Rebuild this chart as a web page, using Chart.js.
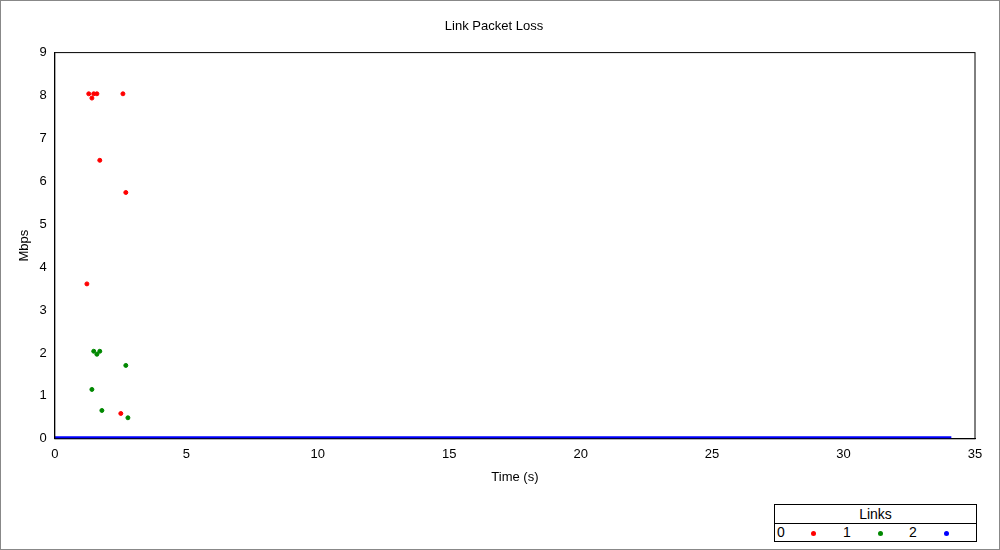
<!DOCTYPE html>
<html>
<head>
<meta charset="UTF-8">
<script src="https://cdn.jsdelivr.net/npm/chart.js"></script>
<style>
  body { margin:0; background:#fff; font-family: "Liberation Sans", Arial, sans-serif; }
  #wrap { position:relative; width:998px; height:548px; border:1px solid #888; }
  #legend { position:absolute; left:773px; top:503px; width:201px; height:36px; border:1px solid #000; font-size:14px; background:#fff; }
  #legend .t { text-align:center; height:18px; line-height:18px; border-bottom:1px solid #000; }
  #legend .r { position:relative; height:17px; line-height:17px; }
  #legend span { position:absolute; }
  #legend i { position:absolute; width:5px; height:5px; border-radius:50%; top:7px; }
</style>
</head>
<body>
<div id="wrap">
  <canvas id="c" width="998" height="548"></canvas>
  <div id="legend">
    <div class="t">Links</div>
    <div class="r">
      <span style="left:2px">0</span>
      <span style="left:68px">1</span><i style="left:36px;background:#f00"></i>
      <span style="left:134px">2</span><i style="left:103px;background:#080"></i>
      <i style="left:169px;background:#00f"></i>
    </div>
  </div>
</div>
<script>
var tempoVermelho = [1.22, 1.29, 1.41, 1.48, 1.60, 1.71, 2.59, 2.70, 2.51];
var perdaVermelho = [3.61, 8.04, 7.94, 8.04, 8.04, 6.49, 8.04, 5.74, 0.59];
var tempoVerde = [1.41, 1.48, 1.60, 1.71, 1.79, 2.70, 2.78];
var perdaVerde = [1.15, 2.04, 1.97, 2.04, 0.66, 1.71, 0.49];
var tempoAzul = [0, 34.1];
var perdaAzul = [0, 0];

function pontos(xs, ys) {
  var r = [];
  for (var i = 0; i < xs.length; i++) r.push({ x: xs[i], y: ys[i] });
  return r;
}

new Chart(document.getElementById('c').getContext('2d'), {
  type: 'scatter',
  data: {
    datasets: [
      { label: '1', data: pontos(tempoVermelho, perdaVermelho), backgroundColor: '#f00', borderColor: '#f00', pointRadius: 2 },
      { label: '2', data: pontos(tempoVerde, perdaVerde), backgroundColor: '#080', borderColor: '#080', pointRadius: 2 },
      { label: '3', data: pontos(tempoAzul, perdaAzul), showLine: true, borderColor: '#00f', backgroundColor: '#00f', borderWidth: 5, pointRadius: 0 }
    ]
  },
  options: {
    responsive: false,
    animation: false,
    layout: { padding: { left: 12, right: 24, top: 10, bottom: 60 } },
    plugins: {
      legend: { display: false },
      tooltip: { enabled: false },
      title: { display: true, text: 'Link Packet Loss', color: '#000', font: { size: 13, weight: 'normal' }, padding: { top: 8, bottom: 18 } }
    },
    scales: {
      x: {
        min: 0, max: 35,
        ticks: { stepSize: 5, color: '#000', font: { size: 13 } },
        grid: { display: false, tickLength: 5, color: '#000' },
        border: { color: '#000' },
        title: { display: true, text: 'Time (s)', color: '#000', font: { size: 13 } }
      },
      y: {
        min: 0, max: 9,
        ticks: { stepSize: 1, color: '#000', font: { size: 13 } },
        grid: { display: false, tickLength: 5, color: '#000' },
        border: { color: '#000' },
        title: { display: true, text: 'Mbps', color: '#000', font: { size: 13 } }
      }
    }
  },
  plugins: [{
    id: 'moldura',
    afterDraw: function (chart) {
      var a = chart.chartArea, ctx = chart.ctx;
      ctx.save();
      ctx.strokeStyle = '#000';
      ctx.lineWidth = 1;
      ctx.strokeRect(a.left, a.top, a.right - a.left, a.bottom - a.top);
      ctx.restore();
    }
  }]
});
</script>
</body>
</html>
